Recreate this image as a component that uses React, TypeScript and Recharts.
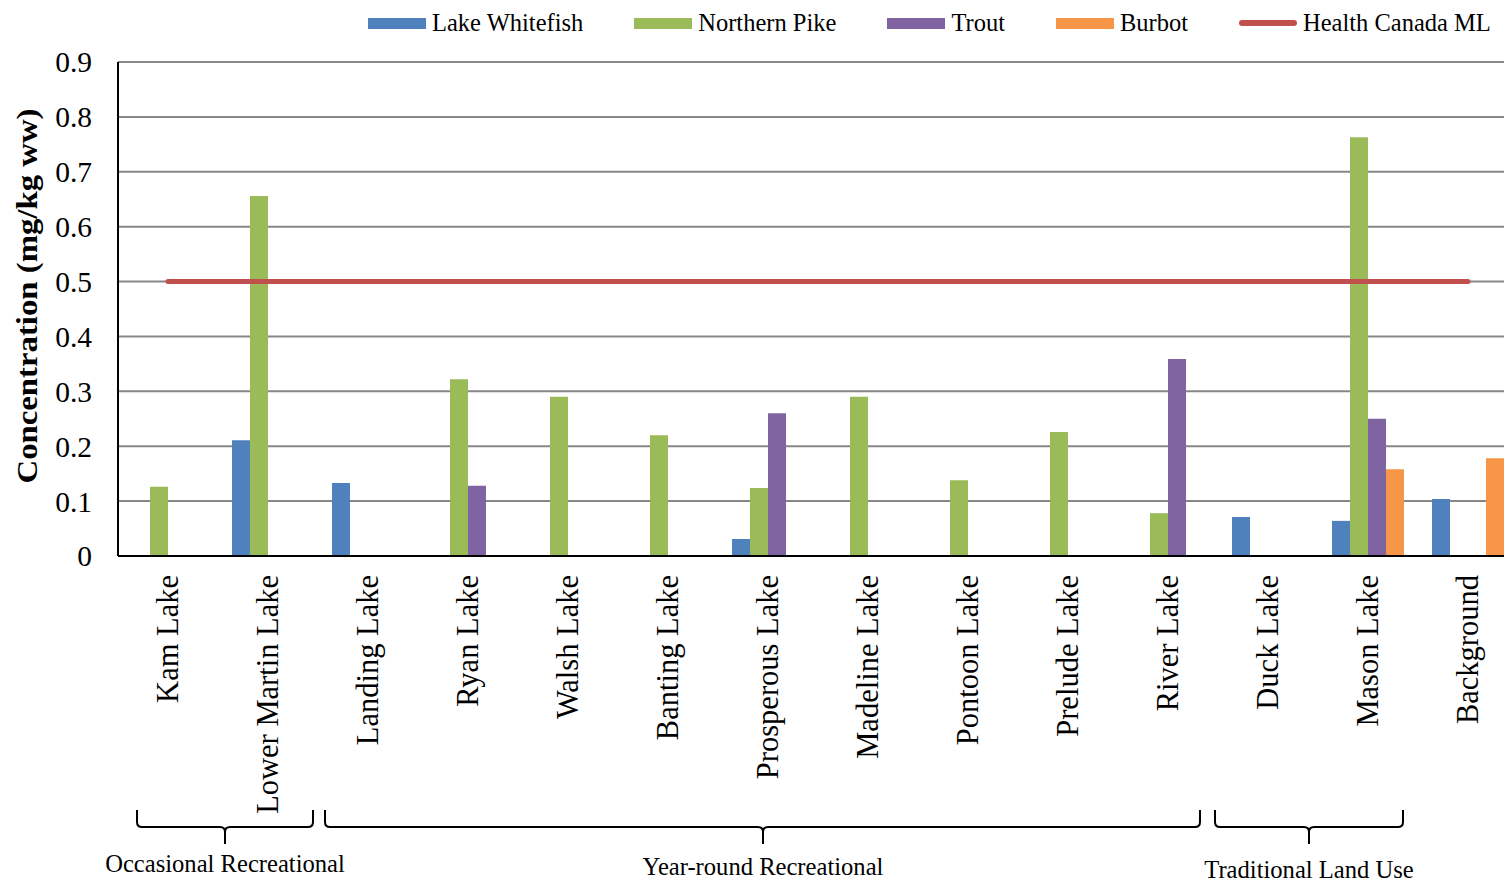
import { Bar, CartesianGrid, ComposedChart, Line, XAxis, YAxis } from "recharts"

const FONT = '"Liberation Serif", "Times New Roman", serif'

const BLUE = "#4F81BD"
const GREEN = "#9BBB59"
const PURPLE = "#8064A2"
const ORANGE = "#F79646"
const RED = "#C0504D"

const CATEGORIES = [
  "Kam Lake",
  "Lower Martin Lake",
  "Landing Lake",
  "Ryan Lake",
  "Walsh Lake",
  "Banting Lake",
  "Prosperous Lake",
  "Madeline Lake",
  "Pontoon Lake",
  "Prelude Lake",
  "River Lake",
  "Duck Lake",
  "Mason Lake",
  "Background",
]

const WHITEFISH = [null, 0.211, 0.133, null, null, null, 0.031, null, null, null, null, 0.071, 0.064, 0.104]
const PIKE = [0.126, 0.656, null, 0.322, 0.29, 0.22, 0.124, 0.29, 0.138, 0.226, 0.078, null, 0.763, null]
const TROUT = [null, null, null, 0.128, null, null, 0.26, null, null, null, 0.359, null, 0.25, null]
const BURBOT = [null, null, null, null, null, null, null, null, null, null, null, null, 0.158, 0.178]
const HEALTH_CANADA_ML = 0.5

const Y_TICKS = [0, 0.1, 0.2, 0.3, 0.4, 0.5, 0.6, 0.7, 0.8, 0.9]
const EDGE_TICKS = [1, 2, 3, 4, 5, 6, 7, 8, 9, 10, 11, 12, 13]

// braces under the axis (pixel ends of each brace, label baseline)
const GROUPS = [
  { label: "Occasional Recreational", left: 137, right: 313, labelY: 872 },
  { label: "Year-round Recreational", left: 325, right: 1200, labelY: 875 },
  { label: "Traditional Land Use", left: 1215, right: 1403, labelY: 878 },
]

const LEGEND = [
  { name: "Lake Whitefish", color: BLUE, line: false },
  { name: "Northern Pike", color: GREEN, line: false },
  { name: "Trout", color: PURPLE, line: false },
  { name: "Burbot", color: ORANGE, line: false },
  { name: "Health Canada ML", color: RED, line: true },
]

const data = CATEGORIES.map((name, i) => ({
  name,
  whitefish: WHITEFISH[i],
  pike: PIKE[i],
  trout: TROUT[i],
  burbot: BURBOT[i],
  ml: HEALTH_CANADA_ML,
}))

// plot geometry
const PLOT_LEFT = 118
const PLOT_TOP = 62
const PLOT_BOTTOM = 556
const BAND = 100
const CHART_W = PLOT_LEFT + BAND * CATEGORIES.length + 2
const CHART_H = 882
const TITLE_X = 37
const TITLE_Y = 296

function CategoryTick(props: any) {
  const { x, y, payload } = props
  return (
    <text
      x={x}
      y={y}
      transform={`rotate(-90 ${x} ${y})`}
      textAnchor="end"
      dy="0.33em"
      fontSize={30.5}
      fontFamily={FONT}
      fill="#000"
    >
      {payload.value}
    </text>
  )
}

function Brace({ x1, x2, cx }: { x1: number; x2: number; cx: number }) {
  const top = 810
  const mid = 827
  const tip = 844
  const r = 5
  const d = [
    `M ${x1} ${top}`,
    `L ${x1} ${mid - r}`,
    `Q ${x1} ${mid} ${x1 + r} ${mid}`,
    `L ${cx - r} ${mid}`,
    `Q ${cx} ${mid} ${cx} ${mid + r}`,
    `L ${cx} ${tip}`,
    `M ${cx} ${mid + r}`,
    `Q ${cx} ${mid} ${cx + r} ${mid}`,
    `L ${x2 - r} ${mid}`,
    `Q ${x2} ${mid} ${x2} ${mid - r}`,
    `L ${x2} ${top}`,
  ].join(" ")
  return <path d={d} fill="none" stroke="#000" strokeWidth={2} />
}

export default function App() {
  return (
    <div
      style={{
        position: "absolute",
        left: 0,
        top: 0,
        width: 1504,
        height: CHART_H,
        overflow: "hidden",
        background: "#fff",
        fontFamily: FONT,
      }}
    >
      <ComposedChart
        width={CHART_W}
        height={CHART_H}
        data={data}
        margin={{ top: PLOT_TOP, right: 2, bottom: 0, left: 0 }}
        barCategoryGap="14%"
        barGap={0}
      >
        <CartesianGrid vertical={false} stroke="#878787" strokeWidth={2} />
        <XAxis
          xAxisId="edges"
          type="number"
          domain={[0, CATEGORIES.length]}
          ticks={EDGE_TICKS}
          tick={false}
          mirror
          height={0}
          tickSize={7}
          tickLine={{ stroke: "#000", strokeWidth: 2 }}
          axisLine={false}
        />
        <XAxis
          dataKey="name"
          interval={0}
          height={CHART_H - PLOT_BOTTOM}
          tickLine={false}
          tickSize={0}
          tickMargin={19}
          axisLine={{ stroke: "#000", strokeWidth: 2 }}
          tick={<CategoryTick />}
        />
        <YAxis
          width={PLOT_LEFT}
          domain={[0, 0.9]}
          ticks={Y_TICKS}
          tickFormatter={(v: number) => (v === 0 ? "0" : v.toFixed(1))}
          tickLine={false}
          tickSize={0}
          tickMargin={26}
          axisLine={{ stroke: "#000", strokeWidth: 2 }}
          tick={{ fontSize: 29.5, fontFamily: FONT, fill: "#000" }}
        />
        <Bar dataKey="whitefish" fill={BLUE} isAnimationActive={false} />
        <Bar dataKey="pike" fill={GREEN} isAnimationActive={false} />
        <Bar dataKey="trout" fill={PURPLE} isAnimationActive={false} />
        <Bar dataKey="burbot" fill={ORANGE} isAnimationActive={false} />
        <Line
          dataKey="ml"
          stroke={RED}
          strokeWidth={5}
          strokeLinecap="round"
          dot={false}
          activeDot={false}
          isAnimationActive={false}
        />
      </ComposedChart>

      <svg
        width={1504}
        height={CHART_H}
        style={{ position: "absolute", left: 0, top: 0, pointerEvents: "none" }}
      >
        <text
          x={TITLE_X}
          y={TITLE_Y}
          transform={`rotate(-90 ${TITLE_X} ${TITLE_Y})`}
          textAnchor="middle"
          fontSize={30}
          fontWeight="bold"
          fontFamily={FONT}
          fill="#000"
          textLength={375}
          lengthAdjust="spacingAndGlyphs"
        >
          Concentration (mg/kg ww)
        </text>
        {GROUPS.map((g) => {
          const cx = Math.round((g.left + g.right) / 2)
          return (
            <g key={g.label}>
              <Brace x1={g.left} x2={g.right} cx={cx} />
              <text x={cx} y={g.labelY} textAnchor="middle" fontSize={24.6} fontFamily={FONT} fill="#000">
                {g.label}
              </text>
            </g>
          )
        })}
      </svg>

      <div
        style={{
          position: "absolute",
          left: 368,
          top: 9,
          display: "flex",
          alignItems: "center",
          gap: 51,
          fontSize: 24.5,
          lineHeight: "28px",
          whiteSpace: "nowrap",
        }}
      >
        {LEGEND.map((item) => (
          <div key={item.name} style={{ display: "flex", alignItems: "center", gap: 6 }}>
            <span
              style={{
                display: "inline-block",
                width: 58,
                height: item.line ? 6 : 11,
                borderRadius: item.line ? 3 : 0,
                background: item.color,
              }}
            />
            <span>{item.name}</span>
          </div>
        ))}
      </div>
    </div>
  )
}
